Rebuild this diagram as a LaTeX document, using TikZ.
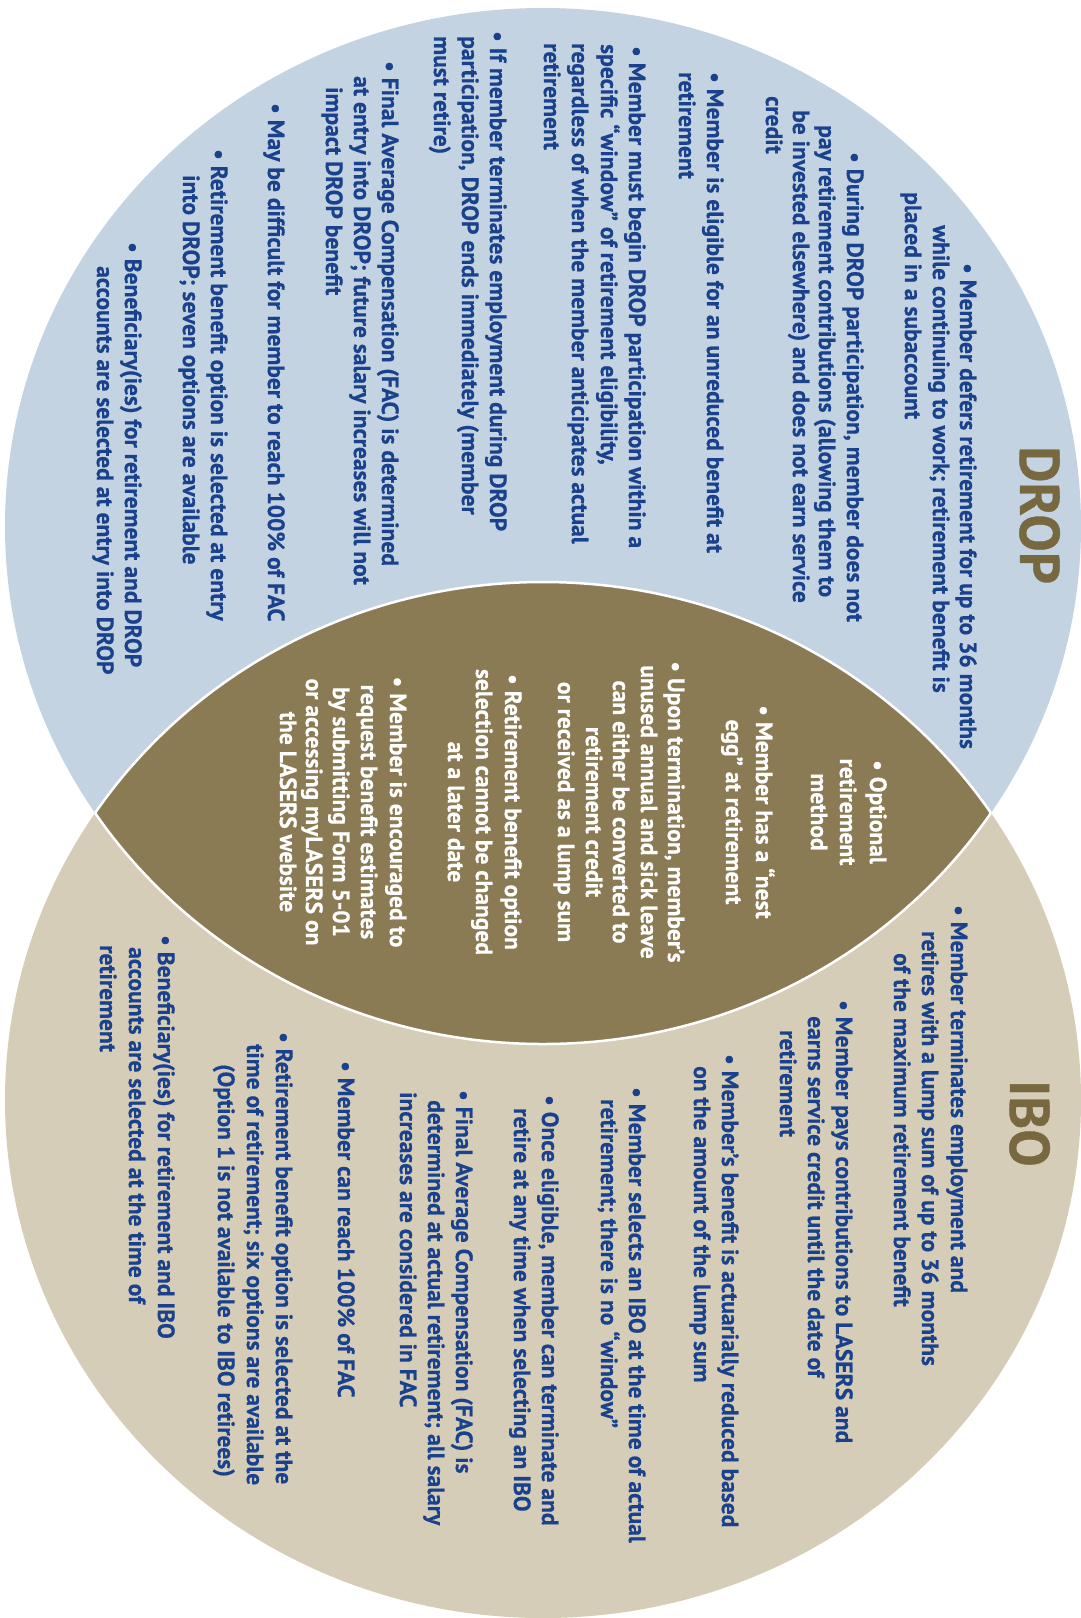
\documentclass[tikz,border=0pt]{standalone}
\usepackage{fontspec}
\newfontfamily\vennfont{PT Sans}[BoldFeatures={FakeBold=0.6}]
\definecolor{dropfill}{HTML}{C4D3E2}
\definecolor{ibofill}{HTML}{D6CDB8}
\definecolor{lensfill}{HTML}{8B7B54}
\definecolor{titlecol}{HTML}{786840}
\definecolor{textblue}{HTML}{1A428C}

\begin{document}
\begin{tikzpicture}[
        x=1pt, y=-1pt,
        blueline/.style={text=textblue, font=\vennfont\bfseries\fontsize{23.5}{27.5}\selectfont, rotate=-90, anchor=base west, inner sep=0pt},
        lensline/.style={text=white, font=\vennfont\bfseries\fontsize{23.5}{27.5}\selectfont, rotate=-90, anchor=base, inner sep=0pt}
        ]
    % Define styles
    \tikzstyle{vennsize} = [x radius=538, y radius=518]
    \tikzstyle{venntitle} = [text=titlecol, font=\vennfont\bfseries\fontsize{56}{56}\selectfont, rotate=-90, anchor=base west, inner sep=0pt]

    \useasboundingbox (0,0) rectangle (1081,1618);

    % Define circle centres
    \coordinate (dropc) at (543,526);
    \coordinate (iboc) at (543,1100);

    % Draw the two circles and the overlap
    \fill[dropfill] (dropc) ellipse [vennsize];
    \fill[ibofill] (iboc) ellipse [vennsize];
    \begin{scope}
        \clip (dropc) ellipse [vennsize];
        \fill[lensfill] (iboc) ellipse [vennsize];
        \draw[white, line width=2.5pt] (iboc) ellipse [vennsize];
    \end{scope}
    \begin{scope}
        \clip (iboc) ellipse [vennsize];
        \draw[white, line width=2.5pt] (dropc) ellipse [vennsize];
    \end{scope}

    % Define title nodes
    \node[venntitle] (droptitle) at (1020,446) {DROP};
    \node[venntitle] (ibotitle) at (1010,1080) {IBO};

    % Define DROP text lines
    \node[blueline] (d1a) at (960,263) {• Member defers retirement for up to 36 months};
    \node[blueline] (d1b) at (933,225) {while continuing to work; retirement benefit is};
    \node[blueline] (d1c) at (905,192) {placed in a subaccount};
    \node[blueline] (d2a) at (847,152) {• During DROP participation, member does not};
    \node[blueline] (d2b) at (819,125) {pay retirement contributions (allowing them to};
    \node[blueline] (d2c) at (793,110) {be invested elsewhere) and does not earn service};
    \node[blueline] (d2d) at (766,96) {credit};
    \node[blueline] (d3a) at (707,72) {• Member is eligible for an unreduced benefit at};
    \node[blueline] (d3b) at (679,72) {retirement};
    \node[blueline] (d4a) at (629,46) {• Member must begin DROP participation within a};
    \node[blueline] (d4b) at (601,44) {specific “window” of retirement eligibility,};
    \node[blueline] (d4c) at (572,43) {regardless of when the member anticipates actual};
    \node[blueline] (d4d) at (544,43) {retirement};
    \node[blueline] (d5a) at (490,31) {• If member terminates employment during DROP};
    \node[blueline] (d5b) at (462,36) {participation, DROP ends immediately (member};
    \node[blueline] (d5c) at (434,36) {must retire)};
    \node[blueline] (d6a) at (382,61) {• Final Average Compensation (FAC) is determined};
    \node[blueline] (d6b) at (354,76) {at entry into DROP; future salary increases will not};
    \node[blueline] (d6c) at (326,87) {impact DROP benefit};
    \node[blueline] (d7a) at (268,103) {• May be difficult for member to reach 100\% of FAC};
    \node[blueline] (d8a) at (211,149) {• Retirement benefit option is selected at entry};
    \node[blueline] (d8b) at (183,175) {into DROP; seven options are available};
    \node[blueline] (d9a) at (125,242) {• Beneficiary(ies) for retirement and DROP};
    \node[blueline] (d9b) at (97,266) {accounts are selected at entry into DROP};

    % Define overlap text lines
    \node[lensline] (c1a) at (870,812) {• Optional};
    \node[lensline] (c1b) at (840,812) {retirement};
    \node[lensline] (c1c) at (811,812) {method};
    \node[lensline] (c2a) at (756,812) {• Member has a “nest};
    \node[lensline] (c2b) at (726,812) {egg” at retirement};
    \node[lensline] (c3a) at (668,812) {• Upon termination, member’s};
    \node[lensline] (c3b) at (641,812) {unused annual and sick leave};
    \node[lensline] (c3c) at (613,812) {can either be converted to};
    \node[lensline] (c3d) at (586,812) {retirement credit};
    \node[lensline] (c3e) at (558,812) {or received as a lump sum};
    \node[lensline] (c4a) at (505,812) {• Retirement benefit option};
    \node[lensline] (c4b) at (476,812) {selection cannot be changed};
    \node[lensline] (c4c) at (448,812) {at a later date};
    \node[lensline] (c5a) at (390,812) {• Member is encouraged to};
    \node[lensline] (c5b) at (361,812) {request benefit estimates};
    \node[lensline] (c5c) at (333,812) {by submitting Form 5-01};
    \node[lensline] (c5d) at (306,812) {or accessing myLASERS on};
    \node[lensline] (c5e) at (280,812) {the LASERS website};

    % Define IBO text lines
    \node[blueline] (i1a) at (951,905) {• Member terminates employment and};
    \node[blueline] (i1b) at (922,931) {retires with a lump sum of up to 36 months};
    \node[blueline] (i1c) at (894,953) {of the maximum retirement benefit};
    \node[blueline] (i2a) at (836,1000) {• Member pays contributions to LASERS and};
    \node[blueline] (i2b) at (808,1016) {earns service credit until the date of};
    \node[blueline] (i2c) at (780,1030) {retirement};
    \node[blueline] (i3a) at (722,1054) {• Member’s benefit is actuarially reduced based};
    \node[blueline] (i3b) at (694,1066) {on the amount of the lump sum};
    \node[blueline] (i4a) at (629,1087) {• Member selects an IBO at the time of actual};
    \node[blueline] (i4b) at (601,1099) {retirement; there is no “window”};
    \node[blueline] (i5a) at (542,1095) {• Once eligible, member can terminate and};
    \node[blueline] (i5b) at (514,1108) {retire at any time when selecting an IBO};
    \node[blueline] (i6a) at (456,1090) {• Final Average Compensation (FAC) is};
    \node[blueline] (i6b) at (428,1100) {determined at actual retirement; all salary};
    \node[blueline] (i6c) at (400,1092) {increases are considered in FAC};
    \node[blueline] (i7a) at (338,1061) {• Member can reach 100\% of FAC};
    \node[blueline] (i8a) at (276,1032) {• Retirement benefit option is selected at the};
    \node[blueline] (i8b) at (247,1044) {time of retirement; six options are available};
    \node[blueline] (i8c) at (218,1064) {(Option 1 is not available to IBO retirees)};
    \node[blueline] (i9a) at (158,935) {• Beneficiary(ies) for retirement and IBO};
    \node[blueline] (i9b) at (129,947) {accounts are selected at the time of};
    \node[blueline] (i9c) at (100,945) {retirement};

\end{tikzpicture}
\end{document}
